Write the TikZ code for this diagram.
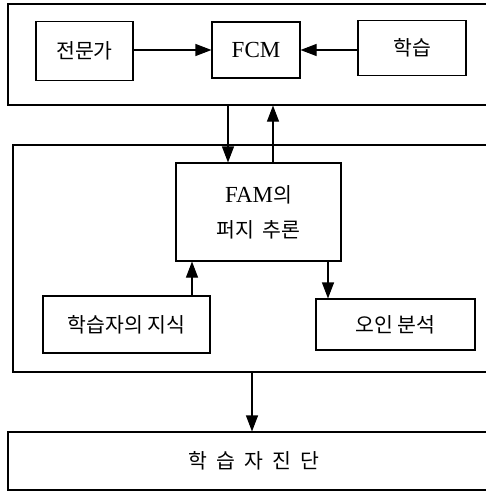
\documentclass[tikz,border=0pt]{standalone}
\usepackage{fontspec}
\setmainfont{Liberation Serif}
\newfontfamily\kr{Noto Sans CJK KR}
\usetikzlibrary{arrows.meta,positioning}
\begin{document}
\begin{tikzpicture}[x=1pt,y=-1pt,
  box/.style={draw,line width=1.1pt,inner sep=0pt,align=center,font=\kr\fontsize{20.5}{35}\selectfont},
  frame/.style={draw,line width=1.1pt,inner sep=0pt},
  arr/.style={line width=1.1pt,-{Triangle[length=16pt,width=12pt]}}]
\useasboundingbox (0,0) rectangle (486,492);
\clip (0,0) rectangle (486,492);
% outer frames (right edges run past the picture)
\node[frame,minimum width=492pt,minimum height=101pt] (outer1) at (254,54.5) {};
\node[frame,minimum width=482pt,minimum height=227pt] (outer2) at (254,258.5) {};
\node[box,minimum width=492pt,minimum height=58pt] (diag) at (254,461)
  {학\hspace{9pt}습\hspace{9pt}자\hspace{9pt}진\hspace{9pt}단};
% top row
\node[box,minimum width=97pt,minimum height=59pt] (exp) at (84.5,51) {전문가};
\node[box,minimum width=88pt,minimum height=56pt,font=\fontsize{23}{26}\selectfont] (fcm) at (256,50) {FCM};
\node[box,minimum width=108pt,minimum height=55pt] (learn) at (412,48) {학습};
% middle
\node[box,minimum width=165pt,minimum height=98pt] (fam) at (258.5,212)
  {{\rmfamily\fontsize{23}{26}\selectfont FAM}의\\[0pt]퍼지\hspace{8pt}추론};
\node[box,minimum width=167pt,minimum height=57pt] (know) at (126.5,324.5) {학습자의 지식};
\node[box,minimum width=159pt,minimum height=51pt] (mis) at (395.5,324.5) {오인 분석};
% connectors
\draw[arr] (exp.east |- fcm.west) -- (fcm.west);
\draw[arr] (learn.west |- fcm.east) -- (fcm.east);
\coordinate (dnA) at ([xshift=-30.5pt]fam.north);
\coordinate (upA) at ([xshift=14.5pt]fam.north);
\draw[arr] (outer1.south -| dnA) -- (dnA);
\draw[arr] (upA) -- (outer1.south -| upA);
\coordinate (kn) at ([xshift=65.5pt]know.north);
\draw[arr] (kn) -- (fam.south -| kn);
\coordinate (ms) at ([xshift=-67.5pt]mis.north);
\draw[arr] (fam.south -| ms) -- (ms);
\coordinate (dg) at (outer2.south -| 252,0);
\draw[arr] (dg) -- (diag.north -| dg);
\end{tikzpicture}
\end{document}
